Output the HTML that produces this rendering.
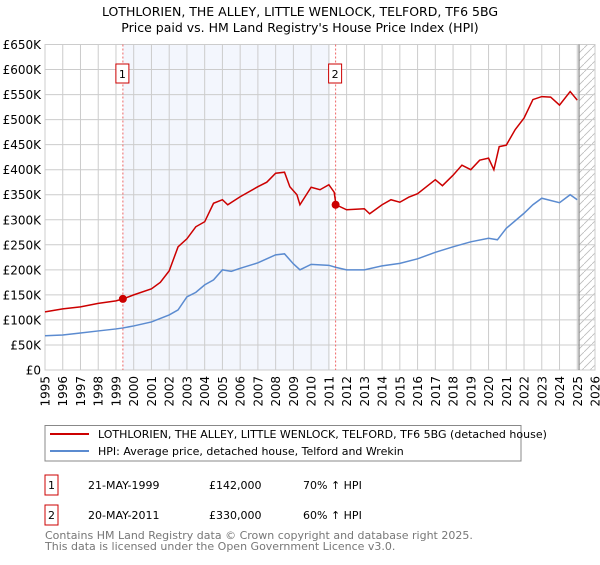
<!DOCTYPE html>
<html><head><meta charset="utf-8"><style>
body{margin:0;background:#fff;font-family:"Liberation Sans","DejaVu Sans",sans-serif;}
svg text{font-family:"DejaVu Sans","Liberation Sans",sans-serif;}
</style></head><body>
<svg id="chart" width="600" height="560" xmlns="http://www.w3.org/2000/svg">
<text x="300" y="16" text-anchor="middle" font-size="12.5" fill="#000">LOTHLORIEN, THE ALLEY, LITTLE WENLOCK, TELFORD, TF6 5BG</text>
<text x="300" y="32" text-anchor="middle" font-size="12.5" fill="#000">Price paid vs. HM Land Registry's House Price Index (HPI)</text>
<g id="plot"></g>
<g>
<rect x="45" y="425.5" width="476" height="35.5" fill="#fff" stroke="#888" stroke-width="1"/>
<line x1="50" y1="434" x2="89" y2="434" stroke="#cc0000" stroke-width="2"/>
<text x="98" y="438" font-size="11">LOTHLORIEN, THE ALLEY, LITTLE WENLOCK, TELFORD, TF6 5BG (detached house)</text>
<line x1="50" y1="451" x2="89" y2="451" stroke="#5b8bd0" stroke-width="2"/>
<text x="98" y="455" font-size="11">HPI: Average price, detached house, Telford and Wrekin</text>
</g>
<g font-size="11">
<rect x="45" y="475" width="13" height="20" fill="#fff" stroke="#cc0000"/>
<text x="51.5" y="489" text-anchor="middle">1</text>
<text x="88" y="489">21-MAY-1999</text>
<text x="209" y="489">£142,000</text>
<text x="303" y="489">70% ↑ HPI</text>
<rect x="45" y="505" width="13" height="20" fill="#fff" stroke="#cc0000"/>
<text x="51.5" y="519" text-anchor="middle">2</text>
<text x="88" y="519">20-MAY-2011</text>
<text x="209" y="519">£330,000</text>
<text x="303" y="519">60% ↑ HPI</text>
</g>
<text x="45" y="539" font-size="11" fill="#777">Contains HM Land Registry data © Crown copyright and database right 2025.</text>
<text x="45" y="550" font-size="11" fill="#777">This data is licensed under the Open Government Licence v3.0.</text>
</svg>
<script>
const yTicks=[0,50000,100000,150000,200000,250000,300000,350000,400000,450000,500000,550000,600000,650000];
const yTickLabels=["£0","£50K","£100K","£150K","£200K","£250K","£300K","£350K","£400K","£450K","£500K","£550K","£600K","£650K"];
const xYears=[1995,1996,1997,1998,1999,2000,2001,2002,2003,2004,2005,2006,2007,2008,2009,2010,2011,2012,2013,2014,2015,2016,2017,2018,2019,2020,2021,2022,2023,2024,2025,2026];
const hpiDates=[1995,1996,1997,1998,1999,1999.4,2000,2001,2002,2002.5,2003,2003.5,2004,2004.5,2005,2005.5,2006,2007,2007.5,2008,2008.5,2009,2009.37,2010,2011,2011.4,2012,2013,2014,2015,2016,2017,2018,2019,2020,2020.5,2021,2022,2022.5,2023,2024,2024.6,2025];
const hpiValues=[68500,70000,74000,78000,82000,84000,88000,96000,110000,120000,146000,155000,170000,180000,200000,197000,203000,214000,222000,230000,232000,212000,200000,211000,209000,205000,200000,200000,208000,213000,222000,235000,246000,256000,263000,260000,283000,313000,330000,343000,334000,350000,340000];
const priceDates=[1995,1996,1997,1998,1999,1999.4,2000,2001,2001.5,2002,2002.5,2003,2003.5,2004,2004.5,2005,2005.3,2006,2007,2007.5,2008,2008.5,2008.8,2009.2,2009.37,2010,2010.5,2011,2011.3,2011.4,2012,2013,2013.3,2014,2014.5,2015,2015.5,2016,2017,2017.4,2018,2018.5,2019,2019.5,2020,2020.3,2020.6,2021,2021.5,2022,2022.5,2023,2023.5,2024,2024.6,2025];
const priceValues=[116000,122000,126000,133000,138000,142000,150000,162000,175000,198000,246000,262000,286000,296000,333000,340000,330000,346000,366000,375000,393000,395000,366000,350000,330000,365000,360000,370000,355000,330000,320000,322000,312000,330000,340000,335000,345000,352000,380000,368000,389000,409000,400000,419000,423000,400000,446000,449000,480000,503000,540000,546000,545000,529000,556000,539000];
const saleDates=[1999.39,2011.38];
const saleValues=[142000,330000];
const saleLabels=["1","2"];

const X0=45,X1=595,Y0=370,Y1=44.5;
const x=t=>X0+(t-1995)/(2026-1995)*(X1-X0);
const y=v=>Y0-v/650000*(Y0-Y1);
const NS="http://www.w3.org/2000/svg";
const g=document.getElementById('plot');
function mk(tag,attrs,parent){const e=document.createElementNS(NS,tag);for(const k in attrs)e.setAttribute(k,attrs[k]);(parent||g).appendChild(e);return e;}

// hatch pattern
const defs=mk('defs',{});
const pat=mk('pattern',{id:'hatch',width:8,height:8,patternUnits:'userSpaceOnUse'},defs);
mk('path',{d:'M0,8 L8,0',stroke:'#bbb','stroke-width':0.8},pat);

// shaded ownership period
let r=mk('rect',{x:x(saleDates[0]),y:Y1,width:x(2011.05)-x(saleDates[0]),height:Y0-Y1,fill:'#eef2fc',opacity:0.7});


// forecast hatch
r=mk('rect',{x:x(2025.1),y:Y1,width:X1-x(2025.1),height:Y0-Y1,fill:'url(#hatch)'});



// grid
xYears.forEach(t=>{const l=mk('line',{x1:x(t),x2:x(t),y1:Y1,y2:Y0,stroke:'#ccc','stroke-width':1});


const tx=mk('text',{x:0,y:0,'font-size':12,'text-anchor':'end',transform:`translate(${x(t)+4.5},${Y0+6}) rotate(-90)`});tx.textContent=t;

});
yTicks.forEach((v,i)=>{const l=mk('line',{x1:X0,x2:X1,y1:y(v),y2:y(v),stroke:'#ccc','stroke-width':1});


const tx=mk('text',{x:X0-4,y:y(v)+4.5,'font-size':12,'text-anchor':'end'});tx.textContent=yTickLabels[i];

});
const border=mk('rect',{x:X0,y:Y1,width:X1-X0,height:Y0-Y1,fill:'none',stroke:'#ccc'});


const nowLine=mk('line',{x1:x(2025.1),x2:x(2025.1),y1:Y1,y2:Y0,stroke:'#888','stroke-width':1.2});



// sale vertical lines
saleDates.forEach((d,i)=>{const l=mk('line',{x1:x(d),x2:x(d),y1:Y1,y2:Y0,stroke:'#e66','stroke-width':1,'stroke-dasharray':'2,2'});


const b=mk('rect',{x:x(d)-7,y:64,width:13,height:19,fill:'#fff',stroke:'#cc0000'});


const tx=mk('text',{x:x(d)-0.5,y:78,'font-size':11,'text-anchor':'middle'});tx.textContent=saleLabels[i];

});

// series
const hp=mk('polyline',{points:hpiDates.map((d,i)=>x(d)+','+y(hpiValues[i])).join(' '),fill:'none',stroke:'#5b8bd0','stroke-width':1.5});


const pp=mk('polyline',{points:priceDates.map((d,i)=>x(d)+','+y(priceValues[i])).join(' '),fill:'none',stroke:'#cc0000','stroke-width':1.5});


saleDates.forEach((d,i)=>{const c=mk('circle',{cx:x(d),cy:y(saleValues[i]),r:4,fill:'#cc0000'});

});
</script>
</body></html>
